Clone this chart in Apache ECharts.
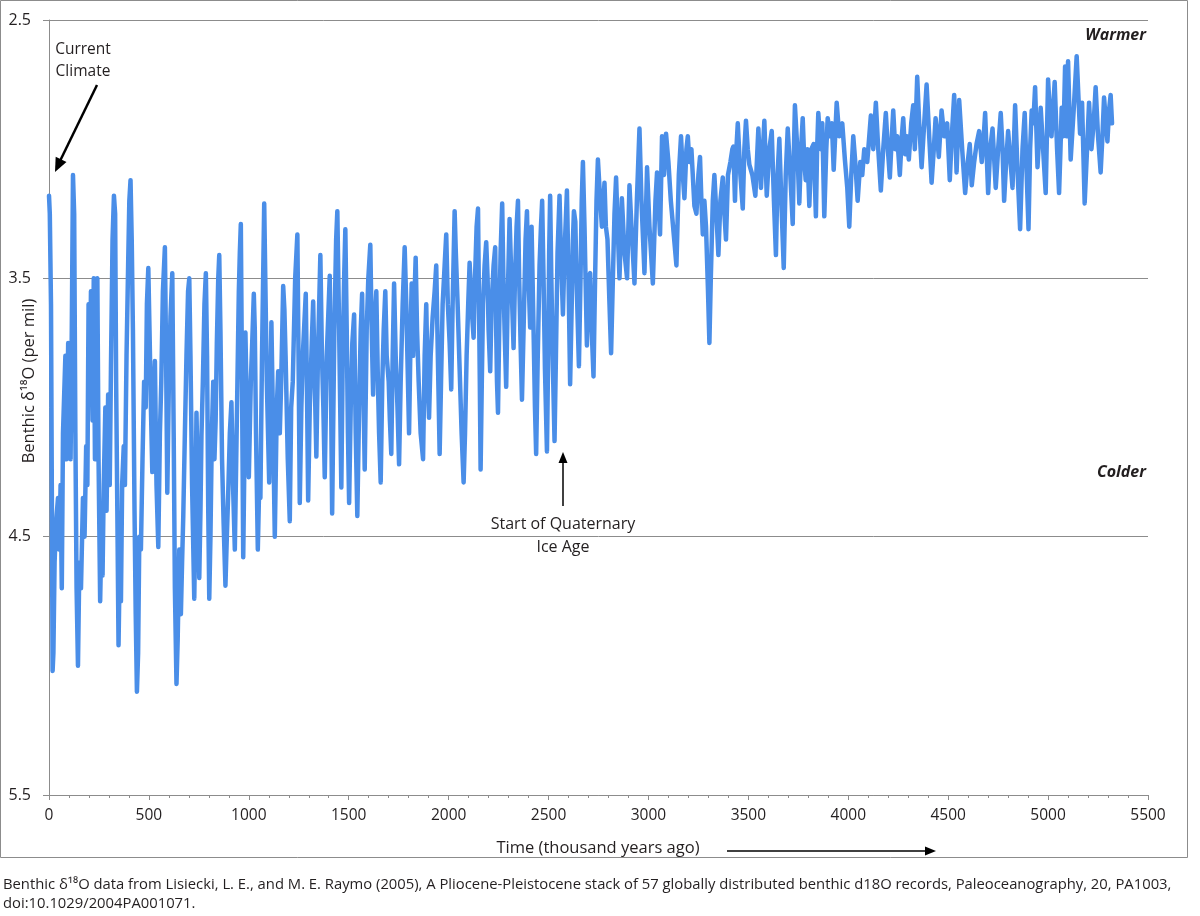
<!DOCTYPE html>
<html>
<head>
<meta charset="utf-8">
<script src="https://cdn.jsdelivr.net/npm/echarts@6/dist/echarts.min.js"></script>
<style>
html,body{margin:0;padding:0;background:#fff;}
#c{width:1200px;height:916px;}
</style>
</head>
<body>
<div id="c"></div>
<script>
// Benthic d18O stack (age in thousand years ago, d18O in per mil)
const lateQuaternary = [
[0,3.18],[4,3.25],[10,3.6],[14,4.3],[18,5.02],[22,4.95],[28,4.6],[35,4.45],[45,4.35],[52,4.55],
[58,4.3],[64,4.7],[70,4.1],[82,3.8],[88,4.2],[96,3.75],[108,4.2],[114,3.7],[120,3.1],[126,3.25],
[132,4.1],[138,4.7],[145,5.0],[152,4.6],[160,4.7],[170,4.35],[178,4.5],[186,4.15],[192,4.3],[198,3.6],
[204,3.95],[210,3.55],[218,4.05],[224,3.5],[230,4.2],[236,3.55],[242,3.5],[248,4.2],[256,4.75],[262,4.5],
[268,4.65],[274,4.3],[282,4.0],[288,4.4],[296,3.95],[304,4.3],[310,3.85],[318,3.35],[325,3.18],[331,3.25],
[336,3.9],[342,4.4],[348,4.92],[354,4.6],[360,4.75],[366,4.3],[374,4.15],[380,4.3],[388,3.8],[396,3.45],
[402,3.2],[408,3.12],[414,3.35],[420,3.7],[428,4.4],[434,4.8],[440,5.1],[446,4.95],[452,4.5],[460,4.55],
[468,4.2],[476,3.9],[484,4.0],[490,3.6],[497,3.46],[503,3.7],[510,4.0],[517,4.25],[524,3.95],[530,3.82],
[538,4.3],[547,4.54],[555,4.1],[562,3.9],[570,3.55],[580,3.38],[586,3.8],[592,4.33],[600,3.9],[608,3.65],
[617,3.48],[624,4.1],[630,4.7],[638,5.07],[644,4.9],[652,4.55],[660,4.8],[666,4.6],[672,4.42],[680,4.1],
[688,3.8],[696,3.55],[702,3.5],[708,3.8],[716,4.3],[727,4.74],[733,4.4],[738,4.02],[745,4.3],[752,4.66],
[758,4.4],[763,4.11],[770,3.9],[778,3.6],[785,3.48],[791,3.8],[797,4.4],[802,4.74],[808,4.5],[815,4.1],
[822,3.9],[828,4.2],[834,4.05],[840,3.75],[847,3.5],[852,3.41],[858,3.7],[866,4.2],[874,4.45],[883,4.69],
[890,4.5],[897,4.33],[905,4.1],[913,3.98],[921,4.3],[930,4.55],[937,4.2],[943,3.9],[950,3.55],[955,3.4],
[960,3.29],[966,3.9],[972,4.58],[978,4.2],[983,3.71],[990,4.0],[1000,4.27],[1010,3.9],[1017,3.75],[1025,3.56],
[1030,3.7],[1036,4.1],[1045,4.55]
];
const earlyQuaternary = [
[1052,4.3],[1058,4.35],[1066,3.8],[1077,3.21],[1090,3.9],[1102,4.29],[1113,3.67],[1122,4.1],[1130,4.5],[1140,4.0],
[1147,3.86],[1155,4.1],[1162,3.9],[1172,3.53],[1178,3.62],[1184,3.8],[1195,4.2],[1205,4.44],[1212,4.0],[1220,3.9],
[1232,3.5],[1243,3.33],[1250,3.9],[1255,4.37],[1263,4.0],[1270,3.8],[1285,3.56],[1292,4.0],[1297,4.36],[1305,4.0],
[1315,3.75],[1322,3.59],[1330,3.9],[1338,4.19],[1346,3.8],[1358,3.41],[1366,3.8],[1373,4.0],[1380,4.27],[1390,3.8],
[1405,3.49],[1411,3.9],[1417,4.41],[1428,3.7],[1437,3.35],[1443,3.24],[1452,3.7],[1463,4.31],[1470,3.8],[1477,3.5],
[1483,3.31],[1490,3.7],[1496,4.1],[1502,4.37],[1510,4.0],[1518,3.75],[1527,3.64],[1535,4.1],[1543,4.42],[1552,4.0],
[1560,3.7],[1567,3.56],[1573,3.9],[1580,4.24],[1590,3.7],[1598,3.5],[1608,3.37],[1615,3.7],[1622,3.95],[1628,3.7],
[1638,3.55],[1646,3.9],[1652,4.1],[1660,4.29],[1668,3.9],[1675,3.7],[1683,3.55],[1690,3.8],[1700,3.9],[1706,4.05],
[1713,4.18],[1720,3.8],[1727,3.52],[1735,3.8],[1744,4.0],[1752,4.22],[1760,3.9],[1770,3.6],[1780,3.38],[1788,3.6],
[1795,3.85],[1802,4.1],[1810,3.7],[1815,3.52],[1822,3.8],[1828,3.6],[1835,3.42],[1842,3.7],[1850,3.9],[1860,4.1],
[1872,4.2],[1880,3.8],[1888,3.6],[1895,3.9],[1902,4.04],[1910,3.8],[1920,3.65],[1930,3.55],[1938,3.45],[1946,3.8],
[1955,4.18],[1962,3.9],[1970,3.6],[1980,3.45],[1988,3.33],[1996,3.6]
];
const latePliocene = [
[2005,3.75],[2013,3.93],[2020,3.6],[2030,3.24],[2036,3.4],[2045,3.6],[2055,3.85],[2065,4.1],[2075,4.29],[2082,4.1],
[2090,3.8],[2098,3.6],[2105,3.44],[2112,3.55],[2118,3.65],[2125,3.73],[2132,3.5],[2140,3.3],[2147,3.23],[2152,3.6],
[2156,3.9],[2160,4.24],[2166,3.9],[2172,3.6],[2180,3.45],[2188,3.36],[2195,3.5],[2200,3.7],[2208,3.86],[2215,3.6],
[2225,3.45],[2233,3.38],[2238,3.7],[2242,3.9],[2247,4.02],[2253,3.7],[2260,3.4],[2268,3.21],[2274,3.5],[2280,3.7],
[2288,3.92],[2295,3.6],[2305,3.27],[2312,3.45],[2318,3.6],[2325,3.77],[2332,3.5],[2340,3.3],[2347,3.2],[2353,3.5],
[2360,3.75],[2367,3.97],[2375,3.7],[2385,3.35],[2392,3.24],[2398,3.45],[2408,3.69],[2415,3.3],[2425,3.7],[2432,4.0],
[2438,4.18],[2446,3.8],[2455,3.45],[2462,3.3],[2468,3.2],[2475,3.5],[2482,3.85],[2492,4.17],[2498,3.8],[2503,3.4],
[2508,3.18],[2514,3.5],[2522,3.85],[2530,4.13],[2537,3.8],[2545,3.4],[2555,3.18],[2562,3.4],[2572,3.64],[2580,3.4],
[2592,3.16],[2600,3.5],[2608,3.91],[2616,3.6],[2622,3.35],[2627,3.24],[2634,3.28],[2640,3.5],[2652,3.84],[2660,3.5],
[2666,3.2],[2672,3.05],[2680,3.3],[2692,3.76],[2700,3.5],[2708,3.48],[2716,3.7],[2725,3.88],[2733,3.5],[2740,3.2],
[2747,3.04],[2755,3.15],[2767,3.3],[2780,3.13],[2787,3.3],[2795,3.35],[2805,3.6],[2813,3.79],[2822,3.5],[2830,3.25],
[2838,3.11],[2846,3.3],[2855,3.5],[2867,3.19],[2880,3.4],[2893,3.5],[2905,3.14],[2915,3.3],[2930,3.52],[2942,3.2],
[2955,2.92],[2965,3.2],[2980,3.48],[2993,3.07]
];
const midPliocene = [
[3005,3.3],[3022,3.52],[3035,3.2],[3043,3.09],[3050,3.2],[3058,3.33],[3068,2.95],[3078,3.1],[3088,2.94],[3100,3.05],
[3112,3.2],[3140,3.45],[3152,3.1],[3163,2.95],[3172,3.1],[3180,3.19],[3190,3.0],[3197,2.95],[3205,3.05],[3215,3.0],
[3230,3.22],[3240,3.25],[3250,3.1],[3258,3.03],[3265,3.2],[3272,3.33],[3280,3.2],[3288,3.3],[3298,3.55],[3305,3.75],
[3312,3.5],[3322,3.2],[3330,3.1],[3340,3.25],[3350,3.41],[3360,3.2],[3372,3.11],[3380,3.25],[3388,3.35],[3398,3.1],
[3410,3.05],[3420,3.0],[3425,2.99],[3433,3.2],[3440,3.0],[3447,2.9],[3460,3.1],[3472,3.23],[3480,3.0],[3488,2.89],
[3497,3.0],[3505,3.06],[3520,3.1],[3535,3.18],[3550,2.92],[3563,3.15],[3580,2.89],[3592,3.18],[3605,3.0],[3617,2.93],
[3628,3.2],[3638,3.41],[3646,3.1],[3655,2.96],[3665,3.2],[3677,3.46],[3687,3.1],[3697,2.92],[3710,3.1],[3722,3.29],
[3728,3.0],[3733,2.83],[3745,3.0],[3755,3.21],[3764,3.0],[3772,2.88],[3780,3.05],[3787,3.12],[3795,3.0],[3805,3.22],
[3815,3.0],[3827,2.98],[3838,3.26],[3844,3.0],[3850,2.86],[3862,3.0],[3870,2.9],[3880,3.26],[3890,3.0],[3897,2.88],
[3910,2.95],[3918,2.9],[3927,3.08],[3942,2.82],[3955,2.95],[3970,2.9],[3983,3.04],[3995,3.15]
];
const earlyPliocene = [
[4005,3.3],[4015,3.1],[4025,2.95],[4035,3.05],[4047,3.2],[4060,3.05],[4070,3.1],[4080,3.0],[4095,3.05],[4113,2.87],
[4125,3.0],[4138,2.82],[4150,3.0],[4163,3.16],[4175,3.0],[4188,2.86],[4198,3.0],[4208,3.11],[4218,2.95],[4225,2.85],
[4235,3.0],[4245,2.95],[4258,3.1],[4268,2.95],[4275,2.88],[4285,3.02],[4293,2.95],[4303,3.04],[4315,2.9],[4325,2.83],
[4333,3.0],[4345,2.72],[4355,2.9],[4367,3.07],[4380,2.9],[4392,2.75],[4405,2.95],[4417,3.13],[4428,3.0],[4437,2.88],
[4445,2.95],[4453,3.03],[4467,2.85],[4480,2.95],[4495,2.9],[4508,3.12],[4518,2.95],[4530,2.79],[4542,3.09],[4555,2.81],
[4570,3.0],[4585,3.17],[4598,3.05],[4608,2.98],[4618,3.14],[4630,3.05],[4642,2.98],[4655,2.93],[4668,3.05],[4678,2.95],
[4685,2.86],[4700,3.17],[4710,3.0],[4722,2.92],[4738,3.15],[4750,3.0],[4763,2.86],[4772,3.0],[4780,3.2],[4790,3.05],
[4800,2.93],[4812,3.05],[4822,3.15],[4830,2.95],[4835,2.83],[4848,3.1],[4860,3.31],[4872,3.0],[4883,2.86],[4893,3.1],
[4902,3.31],[4910,3.0],[4918,2.85],[4926,2.9],[4935,2.76],[4947,3.07],[4963,2.84],[4975,3.0],[4988,3.17],[5000,2.73],
[5008,2.85],[5017,2.95],[5033,2.74],[5045,3.0],[5055,3.17],[5062,3.0],[5068,2.84],[5077,2.95],[5085,2.68],[5092,2.95],
[5100,2.66],[5113,3.04],[5128,2.85],[5143,2.64],[5152,2.8],[5160,2.94],[5170,2.82],[5183,3.21],[5195,3.0],[5205,2.82],
[5217,3.0],[5228,2.9],[5238,2.76],[5250,2.95],[5263,3.09],[5272,2.95],[5280,2.8],[5290,2.9],[5297,2.97],[5305,2.85],
[5313,2.79],[5320,2.9]
];

const yTickValues = [2.5, 3.5, 4.5, 5.5];
const xTickValues = [0,500,1000,1500,2000,2500,3000,3500,4000,4500,5000,5500];

const record = [].concat(lateQuaternary, earlyQuaternary, latePliocene, midPliocene, earlyPliocene);

const FONT = '"Open Sans", "Noto Sans", "DejaVu Sans", sans-serif';
const TXT = '#231f20';
const GRID = '#8c8c8c';

const chart = echarts.init(document.getElementById('c'), null, {renderer: 'canvas'});

function arrowHead(tipX, tipY, dirX, dirY, len, half) {
  const n = Math.sqrt(dirX*dirX + dirY*dirY);
  const ux = dirX / n, uy = dirY / n;
  const bx = tipX - ux*len, by = tipY - uy*len;
  const px = -uy, py = ux;
  return [[tipX, tipY], [bx + px*half, by + py*half], [bx - px*half, by - py*half]];
}

const option = {
  animation: false,
  backgroundColor: '#ffffff',
  grid: {left: 49, right: 52, top: 20, bottom: 121, containLabel: false},
  xAxis: {
    type: 'value', min: xTickValues[0], max: xTickValues[xTickValues.length-1], interval: 500,
    axisLine: {show: true, onZero: false, lineStyle: {color: GRID, width: 1}},
    axisTick: {show: true, length: 5, lineStyle: {color: GRID, width: 1}},
    minorTick: {show: true, splitNumber: 5, length: 3, lineStyle: {color: GRID, width: 1}},
    axisLabel: {color: TXT, fontSize: 15.5, fontFamily: FONT, margin: 13, formatter: v => String(v)},
    splitLine: {show: false}
  },
  yAxis: {
    type: 'value', inverse: true, min: yTickValues[0], max: yTickValues[yTickValues.length-1], interval: 1,
    axisLine: {show: true, onZero: false, lineStyle: {color: GRID, width: 1}},
    axisTick: {show: true, length: 6, lineStyle: {color: GRID, width: 1}},
    axisLabel: {color: TXT, fontSize: 16, fontFamily: FONT, margin: 18, formatter: v => v.toFixed(1)},
    splitLine: {show: true, lineStyle: {color: GRID, width: 1}}
  },
  series: [{
    type: 'line',
    data: record,
    symbol: 'none',
    showSymbol: false,
    smooth: false,
    lineStyle: {color: '#4a8ee8', width: 4.5, join: 'round', cap: 'round'},
    z: 3
  }],
  graphic: [
    {type: 'rect', silent: true, z: -1, shape: {x: 0.5, y: 0.5, width: 1187, height: 857},
     style: {fill: null, stroke: GRID, lineWidth: 1}},
    {type: 'text', x: 29, y: 381, rotation: Math.PI/2,
     style: {text: 'Benthic δ¹⁸O (per mil)', fontSize: 16.5, fontFamily: FONT, fill: TXT, align: 'center', verticalAlign: 'middle'}},
    {type: 'text', x: 598, y: 848,
     style: {text: 'Time (thousand years ago)', fontSize: 16.5, fontFamily: FONT, fill: TXT, align: 'center', verticalAlign: 'middle'}},
    {type: 'line', shape: {x1: 727, y1: 851, x2: 926, y2: 851}, style: {stroke: '#000', lineWidth: 1.5}},
    {type: 'polygon', shape: {points: arrowHead(936, 851, 1, 0, 11, 4.5)}, style: {fill: '#000'}},
    {type: 'text', x: 1146, y: 35,
     style: {text: 'Warmer', fontSize: 16, fontFamily: FONT, fontWeight: 'bold', fontStyle: 'italic', fill: TXT, align: 'right', verticalAlign: 'middle'}},
    {type: 'text', x: 1146, y: 472,
     style: {text: 'Colder', fontSize: 16, fontFamily: FONT, fontWeight: 'bold', fontStyle: 'italic', fill: TXT, align: 'right', verticalAlign: 'middle'}},
    {type: 'text', x: 83, y: 61,
     style: {text: 'Current\nClimate', fontSize: 15.5, lineHeight: 22, fontFamily: FONT, fill: TXT, align: 'center', verticalAlign: 'middle'}},
    {type: 'line', shape: {x1: 97, y1: 85, x2: 60, y2: 161}, style: {stroke: '#000', lineWidth: 2.5}},
    {type: 'polygon', shape: {points: arrowHead(55, 172, -41, 85, 14, 6)}, style: {fill: '#000'}},
    {type: 'text', x: 563, y: 536,
     style: {text: 'Start of Quaternary\nIce Age', fontSize: 16, lineHeight: 23, fontFamily: FONT, fill: TXT, align: 'center', verticalAlign: 'middle'}},
    {type: 'line', shape: {x1: 563, y1: 506, x2: 563, y2: 462}, style: {stroke: '#000', lineWidth: 1.5}},
    {type: 'polygon', shape: {points: arrowHead(563, 452, 0, -1, 11, 4.5)}, style: {fill: '#000'}},
    {type: 'text', x: 3, y: 885,
     style: {text: 'Benthic δ¹⁸O data from Lisiecki, L. E., and M. E. Raymo (2005), A Pliocene-Pleistocene stack of 57 globally distributed benthic d18O records, Paleoceanography, 20, PA1003,', fontSize: 14.8, fontFamily: FONT, fill: TXT, align: 'left', verticalAlign: 'middle'}},
    {type: 'text', x: 3, y: 904,
     style: {text: 'doi:10.1029/2004PA001071.', fontSize: 14.8, fontFamily: FONT, fill: TXT, align: 'left', verticalAlign: 'middle'}}
  ]
};
chart.setOption(option);
</script>
</body>
</html>
